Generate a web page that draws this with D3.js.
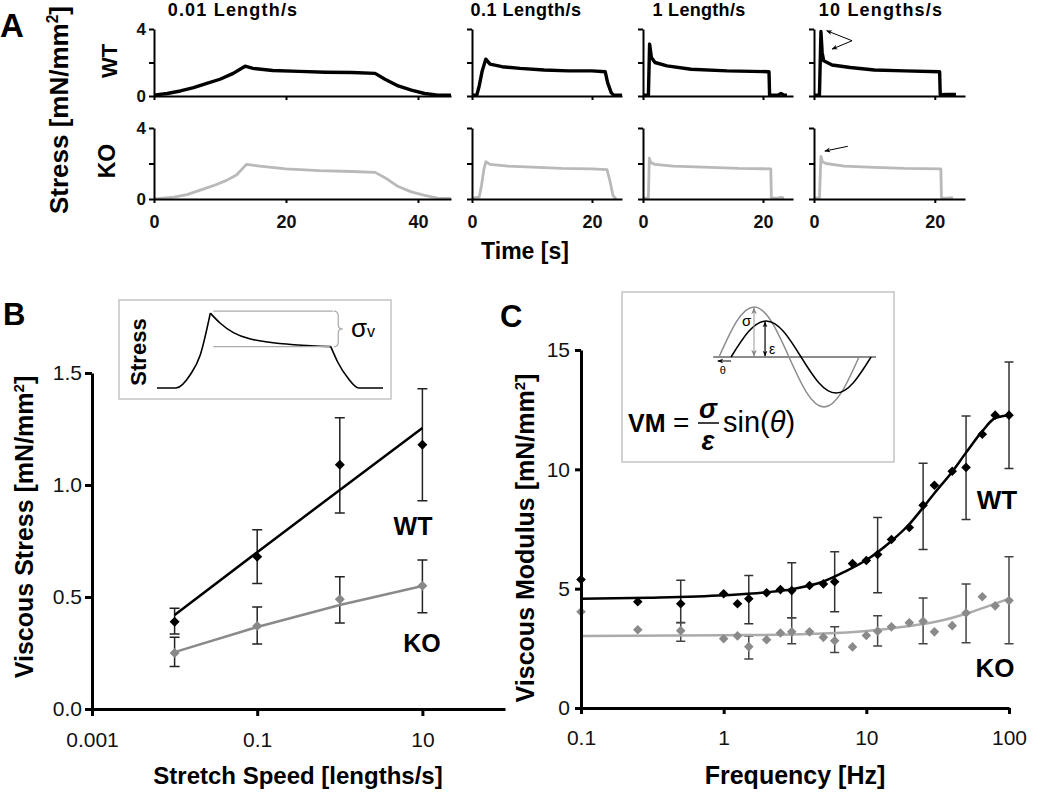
<!DOCTYPE html>
<html><head><meta charset="utf-8">
<script src="https://cdn.jsdelivr.net/npm/d3@7"></script>
<style>
body{margin:0;background:#fff}
svg{display:block}
text{font-family:"Liberation Sans",Arial,sans-serif}
</style>
</head><body>
<svg id="chart" width="1050" height="793"></svg>
<script>
// ---------------- DATA ----------------
// Panel A: stress relaxation traces  [time s, stress mN/mm2]
const speedTitles = ["0.01 Length/s", "0.1 Length/s", "1 Length/s", "10  Lengths/s"];
const timeMax = [45, 25, 25, 25];
const timeTicks = [[0, 20, 40], [0, 20], [0, 20], [0, 20]];
const stressTicks = [0, 2, 4];
const stressTickLabels = ["0", "", "4"];

const wt001 = [[0,0.05],[2,0.15],[4,0.3],[6,0.5],[8,0.75],[10,1.0],[12,1.35],[13.8,1.78],[15,1.65],[18,1.52],[22,1.47],[26,1.42],[30,1.4],[33.5,1.35],[35,1.0],[37,0.6],[39,0.35],[41,0.15],[43,0.05],[45,0.05]];
const wt01  = [[0,0.05],[0.8,0.05],[1.2,0.6],[1.7,1.5],[2.3,2.2],[3,1.9],[5,1.75],[8,1.65],[12,1.55],[16,1.5],[20,1.5],[22.2,1.45],[22.6,0.8],[23.2,0.2],[23.6,0.05],[25,0.05]];
const wt1   = [[0,0.05],[0.9,0.05],[1.1,3.1],[1.4,2.3],[2,2.0],[4,1.8],[8,1.6],[14,1.5],[21,1.45],[21.1,0.05],[22.5,0.05],[23,0.15],[23.5,0.05],[24,0.05]];
const wt10  = [[0,0.05],[0.9,0.05],[1.15,3.85],[1.35,2.6],[1.6,2.1],[3,1.85],[6,1.7],[10,1.55],[15,1.5],[20.8,1.45],[20.9,0.08],[22,0.1],[23.5,0.1]];
const ko001 = [[0,0],[3,0.1],[5,0.25],[7,0.5],[9,0.75],[11,1.05],[12.5,1.35],[14,1.95],[16,1.85],[20,1.7],[25,1.6],[30,1.55],[33.5,1.5],[35,1.2],[37,0.7],[39,0.4],[41,0.2],[43,0.05],[45,0.03]];
const ko01  = [[0,0.05],[1.2,0.1],[1.6,0.8],[2,1.7],[2.3,2.1],[3,1.95],[6,1.85],[10,1.8],[15,1.72],[20,1.7],[22.5,1.65],[23,1.0],[23.5,0.2],[24,0]];
const ko1   = [[0,0.05],[0.9,0.05],[1.05,2.3],[1.3,2.05],[2,1.95],[5,1.85],[10,1.8],[16,1.72],[21.3,1.7],[21.4,0.05],[22.5,0.05],[23,0.1],[23.5,0.05]];
const ko10  = [[0,0.05],[0.9,0.05],[1.15,2.4],[1.4,2.1],[2,2.0],[5,1.85],[10,1.78],[15,1.72],[21,1.7],[21.1,0.05],[22,0.05],[23,0.08]];
const wtTraces = [wt001, wt01, wt1, wt10];
const koTraces = [ko001, ko01, ko1, ko10];
// arrows in the 10 Lengths/s panel: [fromT, fromS, toT, toS]
const wtArrows = [[6.3,3.3,2.1,3.9],[6.3,3.3,3.0,2.8]];
const koArrows = [[5.6,2.97,1.8,2.7]];

// Panel B: viscous stress vs stretch speed
const speedsB = [0.01, 0.1, 1, 10];
const speedTicksB = [0.001, 0.1, 10];
const stressTicksB = [0, 0.5, 1.0, 1.5];
const wtB   = [0.39, 0.68, 1.09, 1.18];
const wtBLo = [0.335, 0.56, 0.875, 0.93];
const wtBHi = [0.45, 0.80, 1.30, 1.43];
const wtBFit = [0.42, 0.70, 0.978, 1.254];
const koB   = [0.25, 0.37, 0.49, 0.55];
const koBLo = [0.19, 0.29, 0.384, 0.43];
const koBHi = [0.32, 0.455, 0.59, 0.665];
const koBFit = [0.254, 0.366, 0.464, 0.549];
// inset schematic (arbitrary units)
const insetBX = [0, 8.4, 14.7, 19.1, 23.6, 28, 33.8, 48.9, 76.9, 80, 84.4, 89.3, 100];
const insetBY = [0, 0, 0.17, 0.42, 0.96, 0.83, 0.71, 0.59, 0.53, 0.33, 0.13, 0, 0];

// Panel C: viscous modulus vs frequency
const freqC = [0.1,0.25,0.5,1,1.25,1.5,2,2.5,3,4,5,6,8,10,12,15,20,25,30,40,50,65,80,100];
const wtC = [5.38,4.45,4.37,4.79,4.37,4.58,4.83,4.96,4.92,5.13,5.2,5.29,6.05,6.18,6.43,7.06,7.56,8.49,9.33,9.92,10.08,11.47,12.27,12.27];
const koC = [4.03,3.28,3.24,2.9,3.02,2.57,2.86,3.14,3.19,3.19,2.96,2.82,2.56,3.04,3.22,3.4,3.57,3.63,3.19,3.45,3.98,4.66,4.28,4.5];
const errFreqC = [0.5, 1.5, 3, 6, 12, 25, 50, 100];
const wtLoC = [3.58, 3.53, 3.78, 4.03, 4.83, 6.64, 7.9, 10.04];
const wtHiC = [5.35, 5.55, 6.09, 6.55, 7.98, 10.25, 12.23, 14.5];
const koLoC = [2.8, 2.05, 2.69, 2.33, 2.6, 2.69, 2.73, 2.69];
const koHiC = [3.57, 3.02, 3.78, 3.4, 3.87, 4.61, 5.2, 6.34];
const wtFitF = [0.1,0.3,1,2,3,5,7,10,15,20,25,30,40,50,65,80,100];
const wtFitV = [4.58,4.62,4.72,4.85,4.98,5.3,5.7,6.2,7.0,7.7,8.4,9.0,9.9,10.7,11.6,12.15,12.27];
const koFitF = [0.1,1,3,5,10,20,30,50,70,100];
const koFitV = [3.02,3.05,3.08,3.12,3.23,3.44,3.6,3.95,4.25,4.58];
const freqTicksC = [0.1, 1, 10, 100];
const modTicksC = [0, 5, 10, 15];
// inset sine schematic (phase deg, normalised amplitude)
const sinePhase = [0, 45, 90, 135, 180, 225, 270, 315, 360];
const sineVals  = [0, 0.707, 1, 0.707, 0, -0.707, -1, -0.707, 0];
const stressAmp = 1, strainAmp = 0.72, phaseLag = 31;

// ---------------- DRAWING ----------------
const svg = d3.select("#chart");
const SANS = '"Liberation Sans",Arial,sans-serif';
const SERIF = '"Liberation Serif","Times New Roman",serif';
const defs = svg.append("defs");
function marker(id, color, size) {
  defs.append("marker").attr("id", id).attr("viewBox", "0 0 10 10")
    .attr("refX", 9).attr("refY", 5).attr("markerUnits", "userSpaceOnUse")
    .attr("markerWidth", size).attr("markerHeight", size).attr("orient", "auto-start-reverse")
    .append("path").attr("d", "M0,1 L10,5 L0,9 L3,5 Z").attr("fill", color);
}
marker("arrK", "#000", 8);
marker("arrG", "#888", 7);
marker("arrS", "#000", 6);

function styleAxis(g, sw, fs, bold, color) {
  g.attr("font-family", SANS);
  g.select(".domain").attr("stroke", "#000").attr("stroke-width", sw);
  g.selectAll(".tick line").attr("stroke", "#000").attr("stroke-width", sw);
  g.selectAll(".tick text").attr("font-size", fs).attr("font-weight", bold ? "bold" : "normal").attr("fill", color || "#111");
}
function label(x, y, txt, size, opts) {
  opts = opts || {};
  const t = svg.append("text").attr("x", x).attr("y", y).attr("font-size", size)
    .attr("font-weight", opts.weight || "bold").attr("text-anchor", opts.anchor || "start")
    .attr("font-family", opts.family || SANS).attr("fill", opts.fill || "#000").text(txt);
  if (opts.style) t.attr("font-style", opts.style);
  if (opts.spacing) t.attr("letter-spacing", opts.spacing);
  return t;
}
function rotLabel(cx, cy, parts, size) {
  const t = svg.append("text").attr("transform", `translate(${cx},${cy}) rotate(-90)`)
    .attr("text-anchor", "middle").attr("font-size", size).attr("font-weight", "bold").attr("font-family", SANS);
  t.append("tspan").text(parts[0]);
  if (parts.length > 1) {
    t.append("tspan").attr("dy", -size * 0.38).attr("font-size", size * 0.6).text(parts[1]);
    t.append("tspan").attr("dy", size * 0.38).text(parts[2]);
  }
  return t;
}

// ===== Panel A =====
const colRanges = [[154, 451], [472, 622], [643, 793], [814, 965]];
const titleX = [233, 526, 699, 881];
const titleSpacing = [1.2, 0.5, 0.3, 1.2];
const rowRanges = [[96, 29], [199, 128]];
const traceSets = [wtTraces, koTraces];
const traceColor = ["#000", "#b9b9b9"];
const traceWidth = [3.4, 2.8];
speedTitles.forEach((title, i) => {
  const x = d3.scaleLinear().domain([0, timeMax[i]]).range(colRanges[i]);
  label(titleX[i], 16, title, 18, {anchor: "middle", spacing: titleSpacing[i]});
  traceSets.forEach((set, r) => {
    const y = d3.scaleLinear().domain([0, 4]).range(rowRanges[r]);
    const g = svg.append("g");
    g.append("path").datum(set[i])
      .attr("d", d3.line().x(d => x(d[0])).y(d => y(d[1])))
      .attr("fill", "none").attr("stroke", traceColor[r]).attr("stroke-width", traceWidth[r])
      .attr("stroke-linejoin", "round");
    const ya = g.append("g").attr("transform", `translate(${x(0)},0)`)
      .call(d3.axisLeft(y).tickValues(stressTicks).tickSize(5).tickSizeOuter(0).tickPadding(3)
        .tickFormat((d, k) => i === 0 ? stressTickLabels[k] : ""));
    styleAxis(ya, 2, 17, true);
    const xa = g.append("g").attr("transform", `translate(0,${y(0)})`)
      .call(d3.axisBottom(x).tickValues(timeTicks[i]).tickSize(4).tickSizeOuter(0).tickPadding(12)
        .tickFormat(d => r === 1 ? d : ""));
    styleAxis(xa, 2, 18, true);
    if (i === 3) {
      const arrs = r === 0 ? wtArrows : koArrows;
      g.selectAll(null).data(arrs).join("line")
        .attr("x1", d => x(d[0])).attr("y1", d => y(d[1]))
        .attr("x2", d => x(d[2])).attr("y2", d => y(d[3]))
        .attr("stroke", "#000").attr("stroke-width", 1).attr("marker-end", "url(#arrS)");
    }
  });
});
label(0, 37, "A", 33);
label(525, 259, "Time [s]", 23, {anchor: "middle"});
rotLabel(68, 110, ["Stress [mN/mm", "2", "]"], 26);
rotLabel(117, 61, ["WT"], 22);
rotLabel(115, 161, ["KO"], 23);

// ===== Panel B =====
const xB = d3.scaleLog().domain([0.001, 100]).range([92, 505]);
const yB = d3.scaleLinear().domain([0, 1.5]).range([709, 373]);
const gB = svg.append("g");
function errBars(g, xs, los, his, x, y, color, cap) {
  const d = xs.map((v, k) => ({x: v, lo: los[k], hi: his[k]}));
  g.selectAll(null).data(d).join("path")
    .attr("d", e => `M${x(e.x)},${y(e.lo)}V${y(e.hi)}M${x(e.x) - cap},${y(e.hi)}h${2 * cap}M${x(e.x) - cap},${y(e.lo)}h${2 * cap}`)
    .attr("stroke", color).attr("stroke-width", 1.5).attr("fill", "none");
}
function diamonds(g, xs, vs, x, y, color, r) {
  g.selectAll(null).data(xs.map((v, k) => [v, vs[k]])).join("path")
    .attr("d", p => `M${x(p[0])},${y(p[1]) - r}L${x(p[0]) + r},${y(p[1])}L${x(p[0])},${y(p[1]) + r}L${x(p[0]) - r},${y(p[1])}Z`)
    .attr("fill", color);
}
errBars(gB, speedsB, wtBLo, wtBHi, xB, yB, "#222", 5);
errBars(gB, speedsB, koBLo, koBHi, xB, yB, "#222", 5);
const lineB = d3.line().x(d => xB(d[0])).y(d => yB(d[1]));
gB.append("path").datum(speedsB.map((s, k) => [s, wtBFit[k]])).attr("d", lineB)
  .attr("fill", "none").attr("stroke", "#000").attr("stroke-width", 2.5);
gB.append("path").datum(speedsB.map((s, k) => [s, koBFit[k]])).attr("d", lineB)
  .attr("fill", "none").attr("stroke", "#8a8a8a").attr("stroke-width", 2.5);
diamonds(gB, speedsB, wtB, xB, yB, "#000", 5);
diamonds(gB, speedsB, koB, xB, yB, "#888", 5);
const yaB = gB.append("g").attr("transform", `translate(${xB(0.001)},0)`)
  .call(d3.axisLeft(yB).tickValues(stressTicksB).tickSize(7).tickSizeOuter(0).tickPadding(3).tickFormat(d3.format(".1f")));
styleAxis(yaB, 3, 21, false);
const xaB = gB.append("g").attr("transform", `translate(0,${yB(0)})`)
  .call(d3.axisBottom(xB).tickValues(speedTicksB).tickSize(7).tickSizeOuter(0).tickPadding(16).tickFormat(d => String(d)));
styleAxis(xaB, 3, 21, false);
label(3, 325, "B", 31);
rotLabel(33, 527, ["Viscous Stress [mN/mm", "2", "]"], 25);
label(298, 784, "Stretch Speed [lengths/s]", 24, {anchor: "middle"});
label(413, 535, "WT", 25, {anchor: "middle"});
label(422, 652, "KO", 25, {anchor: "middle"});

// inset B
svg.append("rect").attr("x", 119).attr("y", 300).attr("width", 272).attr("height", 99)
  .attr("fill", "#fff").attr("stroke", "#c4c4c4").attr("stroke-width", 1.5);
const ibx = d3.scaleLinear().domain([0, 100]).range([157, 383]);
const iby = d3.scaleLinear().domain([0, 1]).range([388, 310]);
const insetPts = insetBX.map((v, k) => [v, insetBY[k]]);
const iLine = d3.line().x(d => ibx(d[0])).y(d => iby(d[1])).curve(d3.curveMonotoneX);
[[0, 5], [4, 9], [8, 13]].forEach(([a, b]) => {
  svg.append("path").datum(insetPts.slice(a, b)).attr("d", iLine)
    .attr("fill", "none").attr("stroke", "#000").attr("stroke-width", 1.6);
});
svg.append("line").attr("x1", ibx(24.9)).attr("x2", ibx(77.8)).attr("y1", iby(0.985)).attr("y2", iby(0.985))
  .attr("stroke", "#aaa").attr("stroke-width", 1.2);
svg.append("line").attr("x1", ibx(24.9)).attr("x2", ibx(76.5)).attr("y1", iby(0.53)).attr("y2", iby(0.53))
  .attr("stroke", "#aaa").attr("stroke-width", 1.2);
{
  const xl = ibx(78.2), xm = ibx(80.2), xr = ibx(82.2), yt = iby(0.985), yb = iby(0.53), ym = (yt + yb) / 2;
  svg.append("path").attr("d",
    `M${xl},${yt} Q${xm},${yt} ${xm},${yt + 5} L${xm},${ym - 4} Q${xm},${ym} ${xr},${ym} Q${xm},${ym} ${xm},${ym + 4} L${xm},${yb - 5} Q${xm},${yb} ${xl},${yb}`)
    .attr("fill", "none").attr("stroke", "#aaa").attr("stroke-width", 1.2);
}
{
  const t = svg.append("text").attr("x", 351).attr("y", 337).attr("font-family", SERIF).attr("font-size", 26).text("σ");
  t.append("tspan").attr("font-family", SANS).attr("font-size", 16).text("v");
}
rotLabel(146, 352, ["Stress"], 22);

// ===== Panel C =====
const xC = d3.scaleLog().domain([0.1, 100]).range([581, 1009]);
const yC = d3.scaleLinear().domain([0, 15]).range([708, 350]);
const gC = svg.append("g");
errBars(gC, errFreqC, wtLoC, wtHiC, xC, yC, "#333", 4.5);
errBars(gC, errFreqC, koLoC, koHiC, xC, yC, "#444", 4.5);
const lineC = d3.line().x(d => xC(d[0])).y(d => yC(d[1])).curve(d3.curveMonotoneX);
gC.append("path").datum(wtFitF.map((f, k) => [f, wtFitV[k]])).attr("d", lineC)
  .attr("fill", "none").attr("stroke", "#000").attr("stroke-width", 2.5);
gC.append("path").datum(koFitF.map((f, k) => [f, koFitV[k]])).attr("d", lineC)
  .attr("fill", "none").attr("stroke", "#ababab").attr("stroke-width", 2.5);
diamonds(gC, freqC, wtC, xC, yC, "#000", 4.8);
diamonds(gC, freqC, koC, xC, yC, "#8a8a8a", 4.8);
const yaC = gC.append("g").attr("transform", `translate(${xC(0.1)},0)`)
  .call(d3.axisLeft(yC).tickValues(modTicksC).tickSize(6).tickSizeOuter(0).tickPadding(5));
styleAxis(yaC, 3, 21, false);
const xaC = gC.append("g").attr("transform", `translate(0,${yC(0)})`)
  .call(d3.axisBottom(xC).tickValues(freqTicksC).tickSize(6).tickSizeOuter(0).tickPadding(16).tickFormat(d => String(d)));
styleAxis(xaC, 3, 21, false);
label(500, 327, "C", 31);
rotLabel(534, 538, ["Viscous Modulus [mN/mm", "2", "]"], 25);
label(795, 784, "Frequency [Hz]", 25, {anchor: "middle"});
label(997, 509, "WT", 26, {anchor: "middle"});
label(995, 677, "KO", 26, {anchor: "middle"});

// inset C
svg.append("rect").attr("x", 622).attr("y", 292).attr("width", 272).attr("height", 170)
  .attr("fill", "#fff").attr("stroke", "#c4c4c4").attr("stroke-width", 1.5);
const phx = d3.scaleLinear().domain([0, 360]).range([719, 859]);
const amy = d3.scaleLinear().domain([-1, 1]).range([407, 307]);
svg.append("line").attr("x1", phx(-15)).attr("x2", phx(404)).attr("y1", amy(0)).attr("y2", amy(0))
  .attr("stroke", "#666").attr("stroke-width", 1.5);
const sLine = d3.line().curve(d3.curveNatural);
svg.append("path").attr("d", sLine(sinePhase.map((p, k) => [phx(p), amy(stressAmp * sineVals[k])])))
  .attr("fill", "none").attr("stroke", "#8c8c8c").attr("stroke-width", 1.5);
svg.append("path").attr("d", sLine(sinePhase.map((p, k) => [phx(p + phaseLag), amy(strainAmp * sineVals[k])])))
  .attr("fill", "none").attr("stroke", "#000").attr("stroke-width", 1.5);
svg.append("line").attr("x1", phx(90)).attr("x2", phx(90)).attr("y1", amy(0) - 1).attr("y2", amy(stressAmp) + 1)
  .attr("stroke", "#999").attr("stroke-width", 1).attr("marker-start", "url(#arrG)").attr("marker-end", "url(#arrG)");
svg.append("line").attr("x1", phx(90 + phaseLag) - 1).attr("x2", phx(90 + phaseLag) - 1).attr("y1", amy(0) - 1).attr("y2", amy(strainAmp) + 1)
  .attr("stroke", "#000").attr("stroke-width", 1.2).attr("marker-start", "url(#arrS)").attr("marker-end", "url(#arrS)");
svg.append("line").attr("x1", phx(phaseLag)).attr("x2", phx(-3)).attr("y1", amy(-0.08)).attr("y2", amy(-0.08))
  .attr("stroke", "#000").attr("stroke-width", 1).attr("marker-end", "url(#arrS)");
label(phx(90) - 12, amy(0.72) + 5, "σ", 15, {family: SERIF, weight: "normal"});
label(phx(90 + phaseLag) + 3, amy(0.15) + 4, "ε", 14, {family: SERIF, weight: "normal"});
label(phx(10), amy(-0.33), "θ", 11, {family: SERIF, weight: "normal", anchor: "middle"});
// formula
label(628, 432, "VM", 25);
label(673, 432, "=", 28, {family: SERIF, weight: "normal"});
label(708, 418, "σ", 27, {family: SERIF, weight: "bold", style: "italic", anchor: "middle"});
svg.append("line").attr("x1", 698).attr("x2", 719).attr("y1", 423).attr("y2", 423).attr("stroke", "#000").attr("stroke-width", 1.5);
label(708, 450, "ε", 27, {family: SERIF, weight: "bold", style: "italic", anchor: "middle"});
{
  const t = svg.append("text").attr("x", 723).attr("y", 432).attr("font-family", SERIF).attr("font-size", 29).text("sin(");
  t.append("tspan").attr("font-style", "italic").text("θ");
  t.append("tspan").text(")");
}
</script>
</body></html>
